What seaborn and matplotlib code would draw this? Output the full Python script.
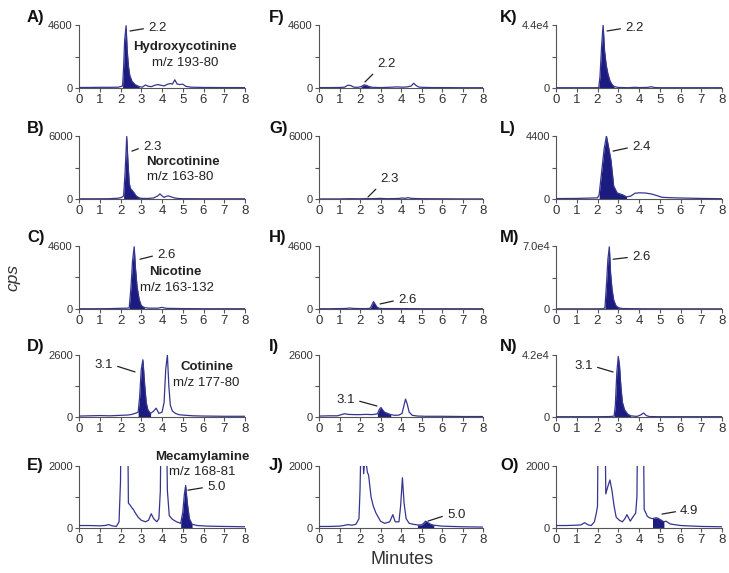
import numpy as np
import matplotlib
matplotlib.use("Agg")
import matplotlib.pyplot as plt
import seaborn as sns

# ---------------- data ----------------
panel_letters = ["A", "B", "C", "D", "E", "F", "G", "H", "I", "J", "K", "L", "M", "N", "O"]
compounds = ["Hydroxycotinine", "Norcotinine", "Nicotine", "Cotinine", "Mecamylamine"]
mz_labels = ["m/z 193-80", "m/z 163-80", "m/z 163-132", "m/z 177-80", "m/z 168-81"]
ymax_values = [4600, 6000, 4600, 2600, 2000,
               4600, 6000, 4600, 2600, 2000,
               44000, 4400, 70000, 42000, 2000]
ymax_labels = ["4600", "6000", "4600", "2600", "2000",
               "4600", "6000", "4600", "2600", "2000",
               "4.4e4", "4400", "7.0e4", "4.2e4", "2000"]
peak_labels = ["2.2", "2.3", "2.6", "3.1", "5.0",
               "2.2", "2.3", "2.6", "3.1", "5.0",
               "2.2", "2.4", "2.6", "3.1", "4.9"]
x_ticks = [0, 1, 2, 3, 4, 5, 6, 7, 8]

# retention-time windows of the shaded peaks (minutes)
fill_ranges = [(2.1, 2.9), (2.15, 3.0), (2.42, 3.15), (2.85, 3.45), (4.9, 5.45),
               (2.05, 2.6), (2.15, 2.45), (2.5, 2.92), (2.85, 3.5), (4.8, 5.6),
               (2.06, 2.8), (2.08, 3.4), (2.36, 3.2), (2.8, 3.6), (4.65, 5.2)]

t_A = [0, 0.5, 1.0, 1.5, 1.9, 2.1, 2.15, 2.2, 2.27, 2.32, 2.38, 2.45, 2.55, 2.7, 2.9, 3.05, 3.2, 3.35,
       3.5, 3.65, 3.8, 3.95, 4.1, 4.25, 4.4, 4.5, 4.62, 4.72, 4.85, 5.0, 5.15, 5.4, 6.0, 7.0, 8.0]
y_A = [40, 40, 50, 50, 60, 150, 1500, 3500, 4550, 2800, 1600, 900, 500, 250, 100, 60, 220, 120,
       100, 200, 250, 200, 150, 260, 330, 280, 600, 300, 250, 280, 120, 60, 40, 30, 30]

t_B = [0, 0.5, 1.0, 1.5, 1.9, 2.05, 2.15, 2.22, 2.3, 2.36, 2.42, 2.48, 2.55, 2.65, 2.75, 2.88, 3.0,
       3.3, 3.6, 3.8, 3.9, 4.0, 4.1, 4.2, 4.3, 4.45, 4.6, 4.8, 5.0, 6.0, 7.0, 8.0]
y_B = [20, 20, 20, 30, 80, 150, 300, 2500, 5950, 3500, 1500, 1000, 850, 600, 300, 130, 60,
       50, 100, 300, 480, 300, 150, 250, 300, 200, 100, 50, 30, 20, 20, 20]

t_C = [0, 0.5, 1.0, 1.5, 2.0, 2.3, 2.42, 2.5, 2.58, 2.66, 2.72, 2.8, 2.9, 3.0, 3.15, 3.4, 3.8,
       4.0, 4.2, 4.6, 5.0, 6.0, 7.0, 8.0]
y_C = [20, 20, 20, 30, 50, 60, 80, 1500, 3500, 4550, 3000, 1600, 700, 250, 100, 60, 60,
       120, 50, 40, 30, 20, 20, 20]

t_D = [0, 0.5, 1.0, 1.5, 2.0, 2.3, 2.5, 2.7, 2.85, 2.92, 3.0, 3.08, 3.16, 3.24, 3.32, 3.45, 3.6,
       3.72, 3.85, 4.0, 4.1, 4.18, 4.26, 4.33, 4.4, 4.5, 4.65, 4.8, 5.0, 5.5, 6.0, 7.0, 8.0]
y_D = [40, 50, 60, 50, 70, 80, 100, 150, 200, 800, 2000, 2400, 1400, 600, 300, 150, 250,
       370, 150, 200, 600, 2000, 2600, 1300, 500, 250, 150, 100, 80, 50, 40, 30, 30]

t_E = [0, 0.5, 1.0, 1.25, 1.42, 1.6, 1.8, 1.93, 2.0, 2.05, 2.2, 2.33, 2.38, 2.45, 2.55, 2.62, 2.7,
       2.85, 3.0, 3.2, 3.35, 3.48, 3.6, 3.75, 3.85, 3.92, 3.98, 4.1, 4.2, 4.26, 4.35, 4.5, 4.7, 4.9,
       5.0, 5.08, 5.14, 5.22, 5.32, 5.45, 5.7, 6.2, 7.0, 8.0]
y_E = [80, 80, 70, 80, 110, 70, 50, 200, 1500, 5000, 6000, 5000, 800, 750, 650, 600, 500,
       350, 250, 200, 250, 460, 300, 200, 300, 1200, 5000, 6000, 4000, 1200, 400, 280, 200, 150,
       500, 1100, 1370, 800, 300, 120, 80, 60, 50, 40]

t_F = [0, 0.5, 1.0, 1.25, 1.4, 1.55, 1.7, 1.9, 2.05, 2.2, 2.3, 2.45, 2.6, 2.8, 3.0, 3.4, 3.8,
       4.1, 4.3, 4.5, 4.62, 4.72, 4.85, 5.0, 5.5, 6.0, 7.0, 8.0]
y_F = [30, 30, 40, 60, 200, 180, 60, 50, 100, 230, 200, 100, 50, 40, 30, 50, 80,
       60, 80, 150, 350, 200, 80, 50, 30, 30, 20, 20]

t_G = [0, 1.0, 1.5, 2.0, 2.15, 2.3, 2.45, 2.6, 3.0, 3.3, 3.6, 3.9, 4.05, 4.2, 4.35, 4.5, 5.0,
       6.0, 7.0, 8.0]
y_G = [10, 10, 30, 20, 30, 45, 30, 30, 60, 30, 40, 50, 100, 60, 130, 60, 30,
       20, 10, 10]

t_H = [0, 0.5, 1.0, 1.3, 1.5, 1.7, 2.0, 2.3, 2.5, 2.58, 2.66, 2.74, 2.82, 2.92, 3.1, 3.5, 4.0,
       5.0, 6.0, 7.0, 8.0]
y_H = [20, 20, 30, 40, 70, 40, 30, 30, 50, 300, 540, 350, 150, 60, 30, 30, 30,
       20, 20, 20, 20]

t_I = [0, 0.5, 0.9, 1.1, 1.25, 1.4, 1.7, 2.0, 2.3, 2.6, 2.85, 2.95, 3.02, 3.1, 3.2, 3.35, 3.5,
       3.7, 3.9, 4.05, 4.15, 4.22, 4.3, 4.4, 4.55, 4.8, 5.2, 6.0, 7.0, 8.0]
y_I = [40, 50, 50, 100, 140, 110, 100, 100, 110, 100, 130, 330, 400, 300, 200, 150, 100,
       70, 80, 150, 500, 750, 550, 200, 70, 40, 30, 30, 20, 20]

t_J = [0, 0.5, 1.0, 1.2, 1.4, 1.6, 1.8, 1.95, 2.0, 2.05, 2.12, 2.18, 2.25, 2.3, 2.36, 2.42, 2.54,
       2.65, 2.78, 3.0, 3.2, 3.45, 3.6, 3.72, 3.9, 3.98, 4.07, 4.15, 4.25, 4.4, 4.6, 4.8, 5.0,
       5.1, 5.2, 5.3, 5.45, 5.6, 6.0, 7.0, 8.0]
y_J = [50, 50, 60, 80, 110, 90, 120, 300, 1200, 2800, 2600, 1750, 2400, 2100, 1800, 1700, 1000,
       700, 480, 220, 150, 200, 430, 200, 200, 700, 1620, 800, 300, 150, 120, 100, 100,
       150, 220, 180, 120, 90, 60, 40, 30]

t_K = [0, 1.0, 2.0, 2.06, 2.12, 2.2, 2.27, 2.34, 2.42, 2.5, 2.6, 2.7, 2.8, 3.0, 3.5, 3.8, 4.0,
       4.4, 4.6, 4.75, 5.0, 6.0, 7.0, 8.0]
y_K = [200, 200, 200, 300, 8000, 30000, 44000, 26000, 16000, 10000, 5000, 2500, 1000, 400, 200,
       500, 300, 400, 900, 300, 200, 200, 200, 200]

t_L = [0, 1.0, 1.5, 2.0, 2.08, 2.2, 2.32, 2.43, 2.55, 2.65, 2.78, 2.95, 3.2, 3.4, 3.6, 3.8, 4.0,
       4.3, 4.6, 4.9, 5.1, 5.5, 6.0, 7.0, 8.0]
y_L = [30, 40, 60, 80, 300, 1900, 3500, 4400, 3500, 2700, 900, 420, 300, 150, 200, 400, 430,
       420, 350, 220, 120, 90, 70, 40, 20]

t_M = [0, 1.0, 2.0, 2.3, 2.36, 2.44, 2.5, 2.57, 2.63, 2.7, 2.78, 2.88, 3.0, 3.2, 4.0, 5.0, 6.0,
       7.0, 8.0]
y_M = [200, 200, 200, 300, 2000, 30000, 55000, 69000, 40000, 22000, 10000, 4000, 1500, 500,
       300, 200, 200, 200, 200]

t_N = [0, 1.0, 2.0, 2.6, 2.8, 2.86, 2.93, 3.0, 3.06, 3.13, 3.2, 3.3, 3.45, 3.6, 3.9, 4.1, 4.22,
       4.35, 4.5, 5.0, 6.0, 7.0, 8.0]
y_N = [200, 200, 200, 300, 600, 8000, 30000, 41000, 35000, 20000, 10000, 5000, 2000, 800, 400,
       1500, 2700, 1000, 300, 200, 200, 200, 200]

t_O = [0, 0.5, 1.0, 1.2, 1.38, 1.55, 1.7, 1.85, 1.95, 2.0, 2.05, 2.2, 2.34, 2.4, 2.48, 2.6, 2.7,
       2.8, 2.9, 3.05, 3.2, 3.32, 3.42, 3.58, 3.7, 3.84, 3.9, 3.96, 4.1, 4.2, 4.25, 4.4, 4.5,
       4.65, 4.8, 4.9, 5.0, 5.2, 5.3, 5.5, 6.0, 7.0, 8.0]
y_O = [80, 80, 90, 100, 170, 100, 80, 200, 500, 700, 5000, 6000, 5000, 1100, 1300, 1550, 1200,
       700, 350, 250, 200, 300, 430, 220, 350, 480, 1000, 5000, 6000, 4000, 600, 380, 330,
       300, 330, 320, 280, 200, 220, 130, 80, 50, 40]

traces_t = [t_A, t_B, t_C, t_D, t_E, t_F, t_G, t_H, t_I, t_J, t_K, t_L, t_M, t_N, t_O]
traces_y = [y_A, y_B, y_C, y_D, y_E, y_F, y_G, y_H, y_I, y_J, y_K, y_L, y_M, y_N, y_O]

# ---------------- layout / style ----------------
W, H = 729, 573
col_left_px = [79, 319, 556]
col_width_px = [166, 164, 166]
row_bottom_px = [88, 199, 309, 417, 528]
row_height_px = [63, 63, 63, 62, 62]

LINE = "#35358f"
FILL = "#1b1b80"
TXT = "#222222"
AX = "#555555"

sns.set_theme(style="ticks")
plt.rcParams["font.family"] = ["Liberation Sans", "DejaVu Sans"]

fig = plt.figure(figsize=(W / 100, H / 100), dpi=100)

# annotation placement: (text x, text y in fraction of ymax, start x, start y frac, ha, va, relpos)
peak_ann = [
    (3.33, 0.952, 2.46, 0.905, "left", "center", (0, 0.5)),
    (3.08, 0.825, 2.55, 0.76, "left", "center", (0, 0.5)),
    (3.76, 0.857, 2.94, 0.79, "left", "center", (0, 0.5)),
    (1.64, 0.84, 2.70, 0.727, "right", "center", (1, 0.5)),
    (6.17, 0.66, 5.25, 0.61, "left", "center", (0, 0.5)),
    (2.83, 0.286, 2.24, 0.095, "left", "bottom", (0, 0)),
    (2.98, 0.222, 2.39, 0.032, "left", "bottom", (0, 0)),
    (3.85, 0.143, 2.98, 0.08, "left", "center", (0, 0.5)),
    (1.76, 0.274, 2.83, 0.177, "right", "center", (1, 0.5)),
    (6.24, 0.21, 5.32, 0.112, "left", "center", (0, 0.5)),
    (3.33, 0.952, 2.46, 0.905, "left", "center", (0, 0.5)),
    (3.66, 0.825, 2.75, 0.76, "left", "center", (0, 0.5)),
    (3.66, 0.825, 2.75, 0.79, "left", "center", (0, 0.5)),
    (1.78, 0.822, 2.75, 0.726, "right", "center", (1, 0.5)),
    (5.98, 0.275, 5.11, 0.225, "left", "center", (0, 0.5)),
]
# compound name / transition text: (x, name y frac, mz x, mz y frac)
name_pos = [
    (5.11, 0.65, 5.11, 0.397),
    (5.01, 0.587, 4.87, 0.35),
    (4.63, 0.587, 4.72, 0.333),
    (6.17, 0.807, 6.12, 0.548),
    (5.93, 1.145, 5.93, 0.903),
]
letter_x = [-0.313, -0.305, -0.337]
letter_y = [1.12, 1.12, 1.14, 1.13, 1.01]

for i in range(15):
    c, r = divmod(i, 5)
    left = col_left_px[c] / W
    bottom = 1 - row_bottom_px[r] / H
    ax = fig.add_axes([left, bottom, col_width_px[c] / W, row_height_px[r] / H])
    t = np.array(traces_t[i], dtype=float)
    y = np.array(traces_y[i], dtype=float)
    ymax = ymax_values[i]

    a, b = fill_ranges[i]
    m = (t >= a - 1e-9) & (t <= b + 1e-9)
    ax.fill_between(t[m], 0, y[m], color=FILL, lw=0, zorder=2)
    sns.lineplot(x=t, y=y, ax=ax, color=LINE, linewidth=0.9, estimator=None, sort=False, zorder=3)

    ax.set_xlim(0, 8)
    ax.set_ylim(0, ymax)
    ax.set_xticks(x_ticks)
    ax.set_xticklabels([str(v) for v in x_ticks])
    ax.set_yticks([0, ymax / 2, ymax])
    ax.set_yticklabels(["0", "", ymax_labels[i]])
    ax.set_xlabel("")
    ax.set_ylabel("")
    ax.tick_params(axis="x", labelsize=9.5, length=3, width=0.8, pad=1.5, colors=AX, labelcolor="#333333")
    ax.tick_params(axis="y", labelsize=8, length=3, width=0.8, pad=1.5, colors=AX, labelcolor="#333333")
    for s in ["top", "right"]:
        ax.spines[s].set_visible(False)
    for s in ["left", "bottom"]:
        ax.spines[s].set_color(AX)
        ax.spines[s].set_linewidth(0.8)

    # panel letter
    ax.text(letter_x[c], letter_y[r], panel_letters[i] + ")", transform=ax.transAxes,
            fontsize=12, fontweight="bold", color="#111111", ha="left", va="center")

    # peak retention-time label with leader line
    tx, ty, sx, sy, ha, va, rp = peak_ann[i]
    ax.annotate(peak_labels[i], xy=(sx, sy * ymax), xytext=(tx, ty * ymax),
                textcoords="data", ha=ha, va=va, fontsize=9.5, color=TXT,
                annotation_clip=False,
                arrowprops=dict(arrowstyle="-", color="#222222", lw=0.9,
                                shrinkA=1, shrinkB=0, relpos=rp))

    if c == 0:
        nx, ny, mx, my = name_pos[r]
        ax.text(nx, ny * ymax, compounds[r], ha="center", va="center", fontsize=9.5,
                fontweight="bold", color=TXT, clip_on=False)
        ax.text(mx, my * ymax, mz_labels[r], ha="center", va="center", fontsize=9.5,
                color=TXT, clip_on=False)

fig.text(13 / W, 1 - 277 / H, "cps", rotation=90, fontsize=12.5, fontstyle="italic",
         ha="center", va="center", color="#333333")
fig.text(402 / W, 1 - 560 / H, "Minutes", fontsize=13, ha="center", va="center", color="#333333")

fig.savefig("out.png", dpi=100)
